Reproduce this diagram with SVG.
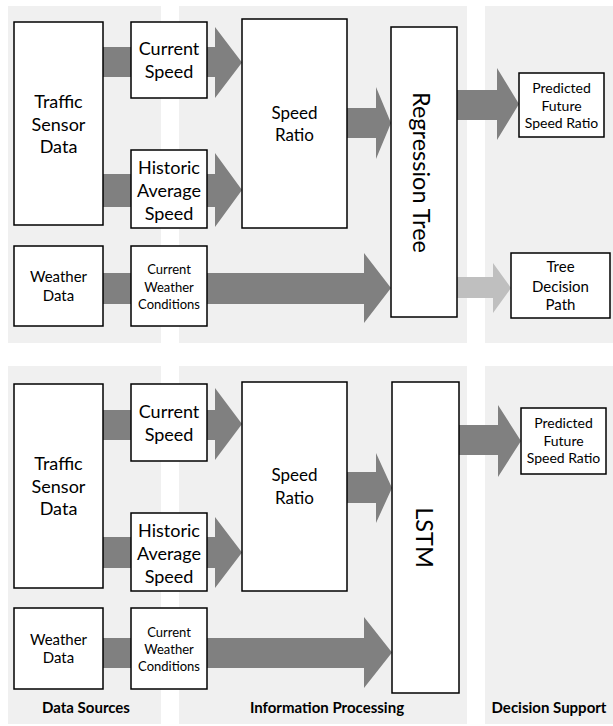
<svg xmlns="http://www.w3.org/2000/svg" width="613" height="726" viewBox="0 0 613 726">
<style>
.panel{fill:#f0f0f0}
.box{fill:#fff;stroke:#000;stroke-width:1.5}
.arr{fill:#808080}
.arrl{fill:#bfbfbf}
text{font-family:Lato,"Open Sans","Liberation Sans",sans-serif;fill:#000;text-anchor:middle}
.t18{font-size:18px}
.t17{font-size:17px}
.t15{font-size:15px}
.t14{font-size:14px}
.t13{font-size:13px}
.big{font-size:23.5px}
.lbl{font-size:15px;font-weight:bold}
</style>
<g id="panels">
<rect class="panel" x="8" y="6" width="153" height="337"/>
<rect class="panel" x="179" y="6" width="288" height="337"/>
<rect class="panel" x="485" y="6" width="128" height="337"/>
<rect class="panel" x="8" y="366" width="153" height="358"/>
<rect class="panel" x="179" y="366" width="288" height="358"/>
<rect class="panel" x="485" y="366" width="128" height="358"/>
</g>
<g id="connectors">
<polygon class="arr" points="103,47 215,47 215,27 242,62.5 215,98 215,77 103,77"/>
<polygon class="arr" points="103,174 215,174 215,153 242,190 215,227 215,207 103,207"/>
<polygon class="arr" points="103,273 364,273 364,253 391,288 364,323 364,304 103,304"/>
<polygon class="arr" points="347,108 376,108 376,87 391,123 376,159 376,138 347,138"/>
<polygon class="arr" points="457,90 497,90 497,68 519,104 497,140 497,120 457,120"/>
<polygon class="arrl" points="457,277 493,277 493,263 511,288 493,313 493,298 457,298"/>
<polygon class="arr" points="103,410 215,410 215,388 242,424 215,460 215,440 103,440"/>
<polygon class="arr" points="103,537 215,537 215,517 242,552.5 215,588 215,568 103,568"/>
<polygon class="arr" points="103,638 364,638 364,617 392,652.5 364,688 364,668 103,668"/>
<polygon class="arr" points="347,472 376,472 376,453 392,488 376,523 376,503 347,503"/>
<polygon class="arr" points="459,425 498,425 498,405 521,441 498,477 498,455 459,455"/>
</g>
<g id="traffic-top"><rect class="box" x="14" y="22" width="89" height="203"/>
<text class="t18"><tspan x="58.5" y="108">Traffic</tspan><tspan x="58.5" y="131">Sensor</tspan><tspan x="58.5" y="153">Data</tspan></text></g>
<g id="current-speed-top"><rect class="box" x="131" y="22" width="76" height="76"/>
<text class="t18"><tspan x="169" y="55">Current</tspan><tspan x="169" y="78">Speed</tspan></text></g>
<g id="historic-top"><rect class="box" x="131" y="150" width="76" height="78"/>
<text class="t18"><tspan x="169" y="174">Historic</tspan><tspan x="169" y="197">Average</tspan><tspan x="169" y="220">Speed</tspan></text></g>
<g id="weather-top"><rect class="box" x="14" y="246" width="89" height="80"/>
<text class="t15"><tspan x="58.5" y="282">Weather</tspan><tspan x="58.5" y="301">Data</tspan></text></g>
<g id="conditions-top"><rect class="box" x="131" y="246" width="76" height="80"/>
<text class="t13"><tspan x="169" y="273.5">Current</tspan><tspan x="169" y="291.5">Weather</tspan><tspan x="169" y="308.5">Conditions</tspan></text></g>
<g id="speed-ratio-top"><rect class="box" x="242" y="19" width="105" height="209"/>
<text class="t17"><tspan x="294.5" y="119">Speed</tspan><tspan x="294.5" y="141">Ratio</tspan></text></g>
<g id="regression-tree"><rect class="box" x="391" y="27" width="66" height="290"/>
<text class="big" transform="translate(413,172.5) rotate(90)" x="0" y="0">Regression Tree</text></g>
<g id="predicted-top"><rect class="box" x="519" y="73" width="85" height="64"/>
<text class="t14"><tspan x="561.5" y="93">Predicted</tspan><tspan x="561.5" y="110.5">Future</tspan><tspan x="561.5" y="128">Speed Ratio</tspan></text></g>
<g id="tree-decision-path"><rect class="box" x="511" y="253" width="99" height="65"/>
<text class="t15"><tspan x="560.5" y="272">Tree</tspan><tspan x="560.5" y="292">Decision</tspan><tspan x="560.5" y="310">Path</tspan></text></g>
<g id="traffic-bottom"><rect class="box" x="14" y="384" width="89" height="204"/>
<text class="t18"><tspan x="58.5" y="470">Traffic</tspan><tspan x="58.5" y="493">Sensor</tspan><tspan x="58.5" y="515">Data</tspan></text></g>
<g id="current-speed-bottom"><rect class="box" x="131" y="384" width="76" height="77"/>
<text class="t18"><tspan x="169" y="418">Current</tspan><tspan x="169" y="441">Speed</tspan></text></g>
<g id="historic-bottom"><rect class="box" x="131" y="513" width="76" height="78"/>
<text class="t18"><tspan x="169" y="537">Historic</tspan><tspan x="169" y="560">Average</tspan><tspan x="169" y="583">Speed</tspan></text></g>
<g id="weather-bottom"><rect class="box" x="14" y="608" width="89" height="81"/>
<text class="t15"><tspan x="58.5" y="645">Weather</tspan><tspan x="58.5" y="663">Data</tspan></text></g>
<g id="conditions-bottom"><rect class="box" x="131" y="608" width="76" height="81"/>
<text class="t13"><tspan x="169" y="636.5">Current</tspan><tspan x="169" y="653.5">Weather</tspan><tspan x="169" y="670.5">Conditions</tspan></text></g>
<g id="speed-ratio-bottom"><rect class="box" x="242" y="382" width="105" height="209"/>
<text class="t17"><tspan x="294.5" y="481">Speed</tspan><tspan x="294.5" y="504">Ratio</tspan></text></g>
<g id="lstm"><rect class="box" x="392" y="382" width="67" height="311"/>
<text class="big" transform="translate(416,537.5) rotate(90)" x="0" y="0">LSTM</text></g>
<g id="predicted-bottom"><rect class="box" x="521" y="408" width="85" height="66"/>
<text class="t14"><tspan x="563.5" y="428">Predicted</tspan><tspan x="563.5" y="446">Future</tspan><tspan x="563.5" y="463">Speed Ratio</tspan></text></g>
<g id="labels">
<text class="lbl" x="86" y="713">Data Sources</text>
<text class="lbl" x="327" y="713">Information Processing</text>
<text class="lbl" x="549" y="713">Decision Support</text>
</g>
</svg>
